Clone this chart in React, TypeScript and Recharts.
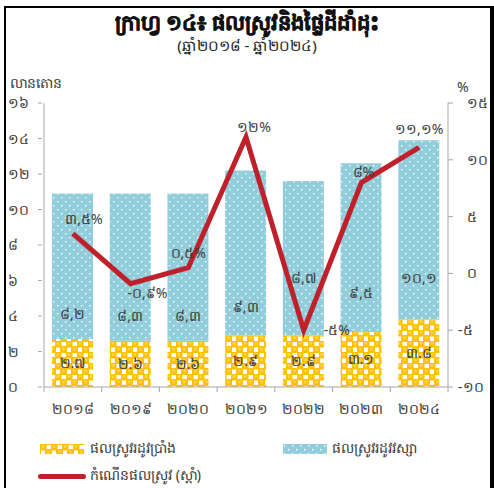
import React from 'react';
import { ComposedChart, Bar, Line, XAxis, YAxis, LabelList } from 'recharts';

const years = ['២០១៨', '២០១៩', '២០២០', '២០២១', '២០២២', '២០២៣', '២០២៤'];
const drySeason = [2.7, 2.6, 2.6, 2.9, 2.9, 3.1, 3.8];
const wetSeason = [8.2, 8.3, 8.3, 9.3, 8.7, 9.5, 10.1];
const growth = [3.5, -0.9, 0.5, 12, -5, 8, 11.1];
const leftTicks = [0, 2, 4, 6, 8, 10, 12, 14, 16];
const rightTicks = [-10, -5, 0, 5, 10, 15];

const data = years.map((year, i) => ({ year, dry: drySeason[i], wet: wetSeason[i], growth: growth[i] }));

const FONT = '"Noto Sans", "DejaVu Sans", sans-serif';
const AXIS = '#a6a6a6';
const TEXT = '#3a3a3a';
const RED = '#c0202a';
const PLOT_LEFT = 44;
const PLOT_RIGHT = 448;
const BAND = (PLOT_RIGHT - PLOT_LEFT) / years.length;

const kh = (s: string) => s.replace(/[0-9]/g, (d) => String.fromCharCode(0x17e0 + Number(d)));
const fmt = (v: number, sep: string) => kh(Number.isInteger(v) ? String(v) : v.toFixed(1).replace('.', sep));

// label offsets for growth line, per point
const growthOffsets = [
  { dx: 11, dy: -15 },
  { dx: 17, dy: 9 },
  { dx: 0, dy: -15 },
  { dx: 8, dy: -10 },
  { dx: 33, dy: 0 },
  { dx: 2, dy: -11 },
  { dx: 0, dy: -18 },
];

function LeftTick(props: any) {
  const { x, y, payload } = props;
  return (
    <g>
      <line x1={x + 2} x2={x + 6} y1={y} y2={y} stroke={AXIS} />
      <text x={8} y={y} dy={5} fontSize={14} fill={TEXT} fontFamily={FONT}>{kh(String(payload.value))}</text>
    </g>
  );
}

function RightTick(props: any) {
  const { x, y, payload } = props;
  const v = payload.value as number;
  return (
    <g>
      <line x1={x - 8} x2={x - 3} y1={y} y2={y} stroke={AXIS} />
      <text x={v < 0 ? 458 : 467} y={y} dy={5} fontSize={14} fill={TEXT} fontFamily={FONT}>{kh(String(v))}</text>
    </g>
  );
}

function XTick(props: any) {
  const { x, y, payload, index } = props;
  const y0 = y - 8;
  return (
    <g>
      <line x1={x - BAND / 2} x2={x - BAND / 2} y1={y0} y2={y0 + 5} stroke={AXIS} />
      {index === years.length - 1 && <line x1={x + BAND / 2} x2={x + BAND / 2} y1={y0} y2={y0 + 5} stroke={AXIS} />}
      <text x={x} y={y0 + 27} textAnchor="middle" fontSize={14} fill={TEXT} fontFamily={FONT}>{payload.value}</text>
    </g>
  );
}

const DryLabel = (p: any) => (
  <text x={p.x + p.width / 2} y={p.y + p.height / 2} dy={5} textAnchor="middle" fontSize={14} fill={TEXT} fontFamily={FONT}>
    {fmt(p.value, '.')}
  </text>
);

const WetLabel = (p: any) => {
  const f = p.index === 4 ? 0.63 : p.index >= 5 ? 0.77 : 0.83;
  return (
    <text x={p.x + p.width / 2} y={p.y + p.height * f} dy={5} textAnchor="middle" fontSize={14} fill={TEXT} fontFamily={FONT}>
      {fmt(p.value, ',')}
    </text>
  );
};

const GrowthLabel = (p: any) => {
  const o = growthOffsets[p.index] || { dx: 0, dy: -12 };
  return (
    <text x={p.x + o.dx} y={p.y + o.dy} dy={5} textAnchor="middle" fontSize={14} fill={TEXT} fontFamily={FONT}>
      {fmt(p.value, ',') + '%'}
    </text>
  );
};

function Swatch({ fill }: { fill: string }) {
  return (
    <svg width={44} height={10} style={{ display: 'block' }}>
      <Patterns />
      <rect width={44} height={10} fill={fill} />
    </svg>
  );
}

function Patterns() {
  return (
    <defs>
      <pattern id="dryPat" width={11} height={11} patternUnits="userSpaceOnUse">
        <rect width={11} height={11} fill="#ffffff" />
        <rect x={-0.5} y={-0.5} width={7} height={7} rx={2} fill="#ffc000" />
        <rect x={5} y={5} width={7} height={7} rx={2} fill="#ffc000" />
        <rect x={-6} y={5} width={7} height={7} rx={2} fill="#ffc000" />
        <rect x={5} y={-6} width={7} height={7} rx={2} fill="#ffc000" />
        <circle cx={3} cy={2.5} r={1.4} fill="#ffd84a" />
        <circle cx={8.5} cy={8} r={1.4} fill="#ffd84a" />
      </pattern>
      <pattern id="wetPat" width={8} height={8} patternUnits="userSpaceOnUse">
        <rect width={8} height={8} fill="#92cddc" />
        <rect x={1} y={1} width={1.4} height={1.4} fill="#ffffff" />
        <rect x={5} y={5} width={1.4} height={1.4} fill="#ffffff" />
      </pattern>
    </defs>
  );
}

export default function App() {
  return (
    <div style={{ position: 'absolute', left: 0, top: 0, width: 494, height: 488, background: '#fff', overflow: 'hidden', fontFamily: FONT, color: TEXT }}>
      <div style={{ position: 'absolute', left: 4, top: 6, width: 490, height: 500, boxSizing: 'border-box', borderLeft: '2px solid #000', borderTop: '2px solid #000', borderRight: '4px solid #000' }} />
      <div style={{ position: 'absolute', left: 0, width: 494, top: 8, textAlign: 'center', fontSize: 21, fontWeight: 'bold', color: '#111', WebkitTextStroke: '0.5px #111' }}>
        ក្រាហ្វ ១៤៖ ផលស្រូវនិងផ្ទៃដីដាំដុះ
      </div>
      <div style={{ position: 'absolute', left: 0, width: 494, top: 35, textAlign: 'center', fontSize: 15, color: '#222' }}>
        (ឆ្នាំ២០១៨ - ឆ្នាំ២០២៤)
      </div>
      <div style={{ position: 'absolute', left: 10, top: 73, fontSize: 14 }}>លានតោន</div>
      <div style={{ position: 'absolute', left: 457, top: 77, fontSize: 14 }}>%</div>

      <div style={{ position: 'absolute', left: 0, top: 0 }}>
        <ComposedChart width={494} height={430} data={data} margin={{ top: 103, right: 0, bottom: 13, left: 0 }} barSize={41}>
          <Patterns />
          <XAxis dataKey="year" stroke={AXIS} tickLine={false} tick={<XTick />} height={30} interval={0} />
          <YAxis yAxisId="left" width={PLOT_LEFT} domain={[0, 16]} ticks={leftTicks} stroke={AXIS} tickLine={false} tick={<LeftTick />} />
          <YAxis yAxisId="right" orientation="right" width={494 - PLOT_RIGHT} domain={[-10, 15]} ticks={rightTicks} stroke={AXIS} tickLine={false} tick={<RightTick />} />
          <Bar yAxisId="left" dataKey="dry" stackId="s" fill="url(#dryPat)" isAnimationActive={false}>
            <LabelList dataKey="dry" content={<DryLabel />} />
          </Bar>
          <Bar yAxisId="left" dataKey="wet" stackId="s" fill="url(#wetPat)" isAnimationActive={false}>
            <LabelList dataKey="wet" content={<WetLabel />} />
          </Bar>
          <Line yAxisId="right" dataKey="growth" stroke={RED} strokeWidth={5} dot={false} isAnimationActive={false}>
            <LabelList dataKey="growth" content={<GrowthLabel />} />
          </Line>
        </ComposedChart>
      </div>

      <div style={{ position: 'absolute', left: 40, top: 438, display: 'flex', alignItems: 'center', fontSize: 14 }}>
        <Swatch fill="url(#dryPat)" />
        <span style={{ marginLeft: 6 }}>ផលស្រូវរដូវប្រាំង</span>
      </div>
      <div style={{ position: 'absolute', left: 283, top: 438, display: 'flex', alignItems: 'center', fontSize: 14 }}>
        <Swatch fill="url(#wetPat)" />
        <span style={{ marginLeft: 5 }}>ផលស្រូវរដូវវស្សា</span>
      </div>
      <div style={{ position: 'absolute', left: 38, top: 465, display: 'flex', alignItems: 'center', fontSize: 14 }}>
        <div style={{ width: 48, height: 5, borderRadius: 3, background: RED }} />
        <span style={{ marginLeft: 4 }}>កំណើនផលស្រូវ (ស្តាំ)</span>
      </div>
    </div>
  );
}
